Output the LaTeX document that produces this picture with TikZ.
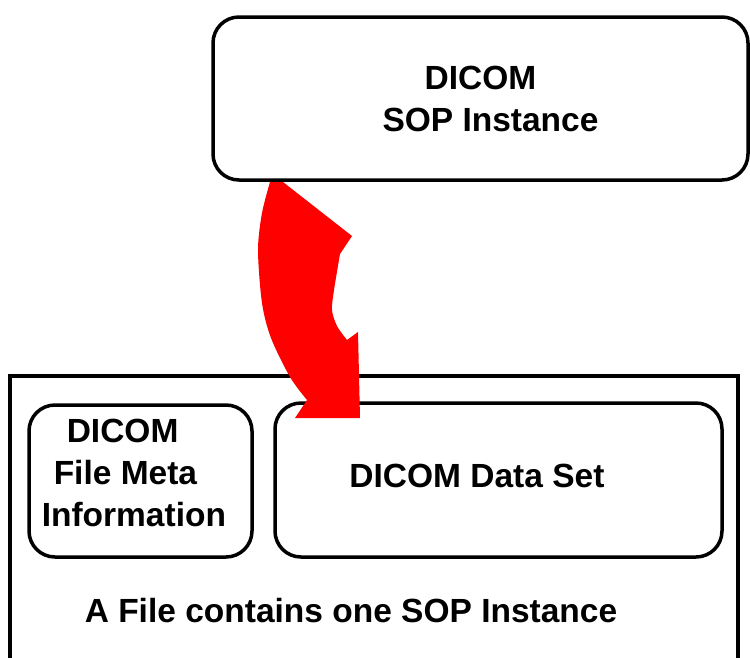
\documentclass[tikz,border=0pt]{standalone}
\usepackage{fontspec}
\setmainfont{Liberation Sans}
\usetikzlibrary{positioning}

\begin{document}
\begin{tikzpicture}[x=1pt,y=-1pt,line width=3.5pt,
    box/.style={draw=black,rounded corners=26pt},
    txt/.style={font=\fontsize{33.5}{42}\selectfont\bfseries,align=center,inner sep=0pt}]
    \useasboundingbox (0,0) rectangle (750,657);
    \clip (0,0) rectangle (750,657);
    \node[box,txt,minimum width=535,minimum height=163] (sop) at (480.5,98.5) {DICOM\\\hspace*{20pt}SOP Instance};
    \node[draw=black,line width=4.5pt,minimum width=728,minimum height=340] (file) at (374,546) {};
    \node[box,minimum width=223,minimum height=152] (meta) at (140.5,481) {};
    \node[box,minimum width=447,minimum height=154] (dataset) at (498.5,480) {};
    \node[txt,align=left,anchor=west] (metatxt) at (40,473) {\hspace*{25pt}DICOM\\\hspace*{12pt}File Meta\\Information};
    \node[txt] (datasettxt) at (477,476) {DICOM Data Set};
    \node[txt] (filetxt) at (351,611) {A File contains one SOP Instance};
    % red arrow from the SOP Instance into the data set
    \fill[red] (270,182) -- (283,182) -- (352,236) -- (340,254)
        -- plot[smooth] coordinates {(340,254) (334,290) (332,310) (337,326) (347,340)}
        -- (358,332) -- (360,418) -- (295,418) -- (307,400)
        -- plot[smooth] coordinates {(307,400) (290,377) (271,338) (262,303) (258,250) (262,213) (270,182)}
        -- cycle;
\end{tikzpicture}
\end{document}
